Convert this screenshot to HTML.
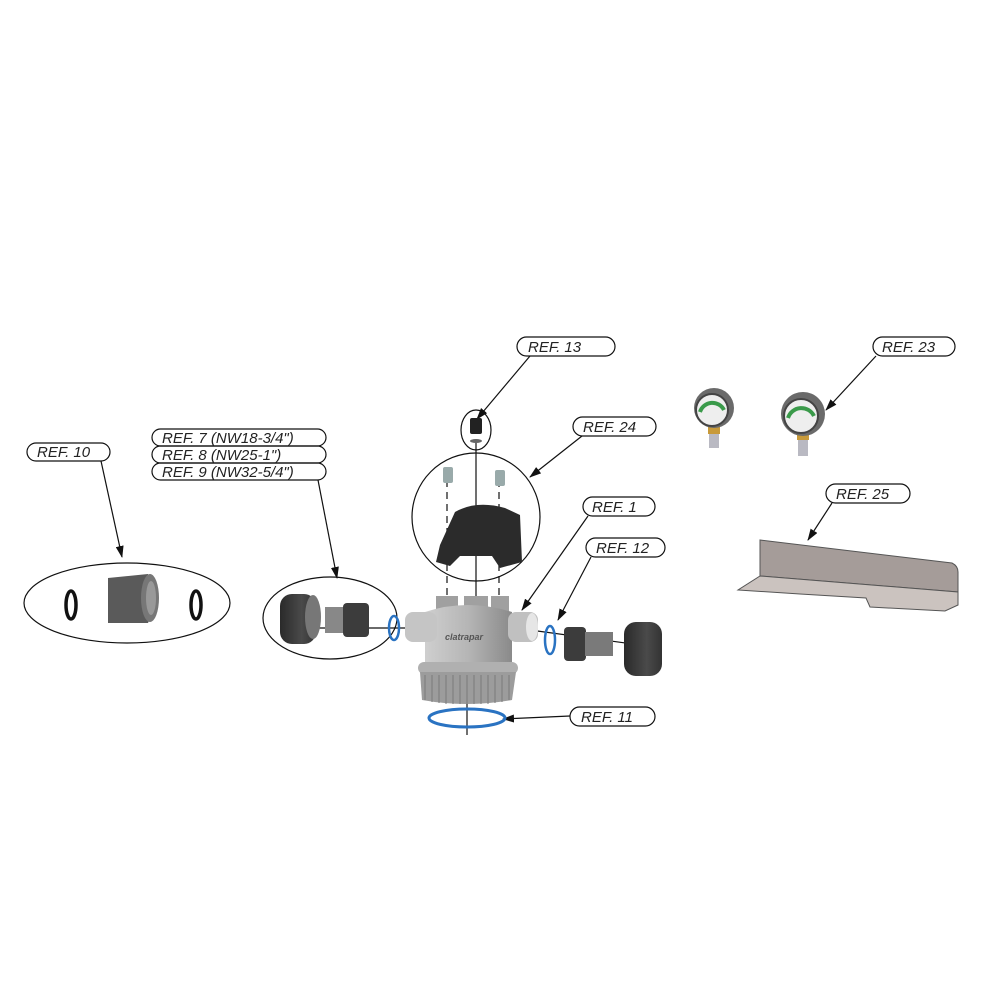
<!DOCTYPE html>
<html><head><meta charset="utf-8"><style>
html,body{margin:0;padding:0;background:#fff}
svg{display:block}
text{font-family:"Liberation Sans",sans-serif;font-style:italic;font-size:15px;fill:#222}
</style></head><body>
<svg width="990" height="990" viewBox="0 0 990 990" xmlns="http://www.w3.org/2000/svg">
<defs>
<marker id="ar" markerWidth="12" markerHeight="8" refX="11" refY="4" orient="auto" markerUnits="userSpaceOnUse">
<path d="M0,0 L12,4 L0,8 Z" fill="#111"/></marker>
<linearGradient id="gb" x1="0" x2="1"><stop offset="0" stop-color="#cfcfcf"/><stop offset=".5" stop-color="#b5b5b5"/><stop offset="1" stop-color="#8a8a8a"/></linearGradient>
<linearGradient id="dk" x1="0" x2="1"><stop offset="0" stop-color="#2a2a2a"/><stop offset=".6" stop-color="#4a4a4a"/><stop offset="1" stop-color="#333"/></linearGradient>
</defs>
<g fill="none" stroke="#111" stroke-width="1.2">
<!-- pills -->
<rect x="517" y="337" width="98" height="19" rx="9.5"/>
<rect x="573" y="417" width="83" height="19" rx="9.5"/>
<rect x="583" y="497" width="72" height="19" rx="9.5"/>
<rect x="586" y="538" width="79" height="19" rx="9.5"/>
<rect x="570" y="707" width="85" height="19" rx="9.5"/>
<rect x="873" y="337" width="82" height="19" rx="9.5"/>
<rect x="826" y="484" width="84" height="19" rx="9.5"/>
<rect x="27" y="443" width="83" height="18" rx="9"/>
<rect x="152" y="429" width="174" height="17" rx="8.5"/>
<rect x="152" y="446" width="174" height="17" rx="8.5"/>
<rect x="152" y="463" width="174" height="17" rx="8.5"/>
<!-- leaders -->
<line x1="530" y1="356" x2="477" y2="419" marker-end="url(#ar)"/>
<line x1="582" y1="436" x2="530" y2="477" marker-end="url(#ar)"/>
<line x1="588" y1="516" x2="522" y2="610" marker-end="url(#ar)"/>
<line x1="591" y1="557" x2="558" y2="620" marker-end="url(#ar)"/>
<line x1="570" y1="716" x2="503" y2="719" marker-end="url(#ar)"/>
<line x1="876" y1="356" x2="826" y2="410" marker-end="url(#ar)"/>
<line x1="832" y1="503" x2="808" y2="540" marker-end="url(#ar)"/>
<line x1="101" y1="461" x2="122" y2="557" marker-end="url(#ar)"/>
<line x1="318" y1="480" x2="337" y2="578" marker-end="url(#ar)"/>
<!-- enclosures -->
<ellipse cx="127" cy="603" rx="103" ry="40"/>
<ellipse cx="330" cy="618" rx="67" ry="41"/>
<circle cx="476" cy="517" r="64"/>
<ellipse cx="476" cy="430" rx="15" ry="20"/>
<!-- dashed/axis lines -->
<line x1="476" y1="440" x2="476" y2="610"/>
<line x1="447" y1="480" x2="447" y2="610" stroke-dasharray="7,5"/>
<line x1="499" y1="480" x2="499" y2="610" stroke-dasharray="7,5"/>
<line x1="467" y1="700" x2="467" y2="735"/>
<line x1="300" y1="628" x2="410" y2="628"/>
<line x1="530" y1="630" x2="640" y2="645"/>
</g>
<!-- texts -->
<text x="528" y="352">REF. 13</text>
<text x="583" y="432">REF. 24</text>
<text x="592" y="512">REF. 1</text>
<text x="596" y="553">REF. 12</text>
<text x="581" y="722">REF. 11</text>
<text x="882" y="352">REF. 23</text>
<text x="836" y="499">REF. 25</text>
<text x="37" y="457">REF. 10</text>
<text x="162" y="443">REF. 7 (NW18-3/4")</text>
<text x="162" y="460">REF. 8 (NW25-1")</text>
<text x="162" y="477">REF. 9 (NW32-5/4")</text>
<!-- REF10 parts -->
<ellipse cx="71" cy="605" rx="5" ry="14" fill="none" stroke="#111" stroke-width="3.5"/>
<ellipse cx="196" cy="605" rx="5" ry="14" fill="none" stroke="#111" stroke-width="3.5"/>
<path d="M108,578 L148,574 Q160,598 148,623 L108,623 Z" fill="#5a5a5a"/>
<ellipse cx="150" cy="598" rx="9" ry="24" fill="#777"/>
<ellipse cx="151" cy="598" rx="5" ry="17" fill="#999"/>
<!-- REF7 parts -->
<rect x="280" y="594" width="36" height="50" rx="12" fill="url(#dk)"/>
<ellipse cx="313" cy="617" rx="8" ry="22" fill="#777"/>
<rect x="325" y="607" width="20" height="26" fill="#888"/>
<rect x="343" y="603" width="26" height="34" rx="4" fill="#3c3c3c"/>
<ellipse cx="394" cy="628" rx="5" ry="12" fill="none" stroke="#2a73c2" stroke-width="2.5"/>
<!-- main body -->
<rect x="436" y="596" width="22" height="16" fill="#a0a0a0"/>
<rect x="464" y="596" width="24" height="16" fill="#a0a0a0"/>
<rect x="491" y="596" width="18" height="16" fill="#a0a0a0"/>
<path d="M425,612 Q467,598 512,612 L512,665 L425,665 Z" fill="url(#gb)"/>
<rect x="405" y="612" width="32" height="30" rx="8" fill="#c5c5c5"/>
<rect x="508" y="612" width="30" height="30" rx="8" fill="#c0c0c0"/>
<ellipse cx="532" cy="627" rx="6" ry="14" fill="#e6e6e6"/>
<text x="445" y="640" style="font-size:9px;font-weight:bold;fill:#555">clatrapar</text>
<rect x="418" y="662" width="100" height="12" rx="6" fill="#b0b0b0"/>
<path d="M420,672 L516,672 L512,700 Q467,708 422,700 Z" fill="#9c9c9c"/>
<g stroke="#7a7a7a" stroke-width="1">
<path d="M425,675V700M432,675V702M439,675V703M446,675V704M453,675V704M460,675V704M467,675V704M474,675V704M481,675V704M488,675V704M495,675V703M502,675V702M509,675V700"/>
</g>
<ellipse cx="467" cy="718" rx="38" ry="9" fill="none" stroke="#2a73c2" stroke-width="3"/>
<!-- right parts -->
<ellipse cx="550" cy="640" rx="5" ry="14" fill="none" stroke="#2a73c2" stroke-width="2.5"/>
<rect x="564" y="627" width="22" height="34" rx="4" fill="#3c3c3c"/>
<rect x="585" y="632" width="28" height="24" fill="#7a7a7a"/>
<rect x="624" y="622" width="38" height="54" rx="12" fill="url(#dk)"/>
<!-- REF13 screw, REF24 -->
<rect x="470" y="418" width="12" height="16" rx="2" fill="#222"/>
<ellipse cx="476" cy="441" rx="6" ry="2" fill="#666"/>
<rect x="443" y="467" width="10" height="16" rx="2" fill="#9aa"/>
<rect x="495" y="470" width="10" height="16" rx="2" fill="#9aa"/>
<path d="M455,512 Q476,500 505,508 L520,515 L522,562 L500,568 L492,556 L460,556 L450,566 L436,562 L440,545 Z" fill="#2b2b2b"/>
<!-- gauges -->
<rect x="709" y="426" width="10" height="22" fill="#b9b9c2"/>
<rect x="708" y="426" width="12" height="8" fill="#c89a3a"/>
<circle cx="714" cy="408" r="20" fill="#6a6a6a"/>
<circle cx="712" cy="410" r="16" fill="#eee" stroke="#444" stroke-width="2"/>
<path d="M700,412 A13,13 0 0 1 724,410" fill="none" stroke="#3a9a4a" stroke-width="4"/>
<rect x="798" y="432" width="10" height="24" fill="#b9b9c2"/>
<rect x="797" y="432" width="12" height="8" fill="#c89a3a"/>
<circle cx="803" cy="414" r="22" fill="#6a6a6a"/>
<circle cx="801" cy="416" r="17" fill="#eee" stroke="#444" stroke-width="2"/>
<path d="M788,418 A14,14 0 0 1 814,416" fill="none" stroke="#3a9a4a" stroke-width="4"/>
<!-- bracket -->
<path d="M760,540 L952,563 Q958,566 958,572 L958,592 L760,576 Z" fill="#a59c99" stroke="#555" stroke-width="1"/>
<path d="M760,576 L958,592 L958,605 L945,611 L870,607 L866,598 L800,594 L738,590 Z" fill="#cbc3bf" stroke="#555" stroke-width="1"/>
</svg>
</body></html>
